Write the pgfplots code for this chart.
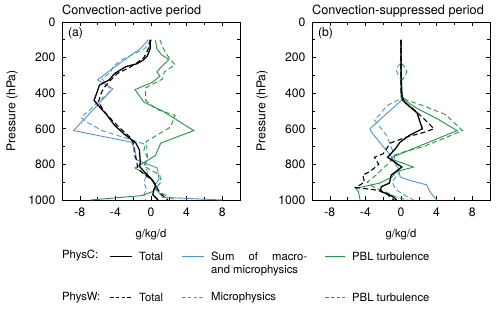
\documentclass[border=0pt]{standalone}
\usepackage{fontspec}
\setmainfont{TeX Gyre Heros}
\usepackage{pgfplots}
\pgfplotsset{compat=1.18}
\definecolor{bl}{RGB}{77,148,217}
\definecolor{gr}{RGB}{35,150,65}
\pgfplotsset{
  panel/.style={
    scale only axis, width=178pt, height=178pt,
    xmin=-10, xmax=10, ymin=0, ymax=1000, y dir=reverse,
    xtick={-8,-4,0,4,8}, minor xtick={-6,-2,2,6},
    ytick={0,200,400,600,800,1000}, minor ytick={100,300,500,700,900},
    tick align=inside, major tick length=4pt, minor tick length=3pt,
    every tick/.style={black, line width=0.6pt},
    axis line style={line width=0.8pt},
    /pgf/number format/assume math mode=true,
    /pgf/number format/set thousands separator={},
    ticklabel style={font=\fontsize{12.2}{14}\selectfont},
    xticklabel style={yshift=-4pt},
    yticklabel style={xshift=-3pt},
    clip mode=individual,
  },
  cs/.style={black, line width=1.3pt},
  cd/.style={black, line width=1.1pt, dash pattern=on 5pt off 3pt},
  bs/.style={bl, line width=0.9pt},
  bd/.style={bl, line width=0.9pt, dash pattern=on 5pt off 3pt},
  gs/.style={gr, line width=0.9pt},
  gd/.style={gr, line width=0.9pt, dash pattern=on 5pt off 3pt},
}
\begin{document}
\begin{tikzpicture}[x=1pt,y=1pt]
\useasboundingbox (0,0) rectangle (500,310);
% ---------------- panel (a)
\begin{axis}[panel, at={(62pt,110pt)}, anchor=south west]
\addplot[bs] coordinates {(-0.3,100)(-1.2,150)(-2.2,185)(-4.0,250)(-6.0,325)(-4.3,375)(-8.7,610)(-2.2,675)(-1.8,720)(-1.6,775)(0.7,820)(0.9,885)(0.5,910)(0.6,940)(1.3,985)(8.0,1000)};
\addplot[bd] coordinates {(0,100)(-0.7,150)(-3.2,210)(-4.3,250)(-4.5,280)(-5.5,320)(-4.5,380)(-4.8,400)(-6.0,450)(-7.1,505)(-7.9,535)(-7.3,560)(-5.5,610)(-2.0,665)(-0.5,690)(-0.4,750)(-0.6,800)(-0.4,850)(-0.8,900)(-0.5,940)(-0.8,970)(-0.6,1000)};
\addplot[gs] coordinates {(0.5,100)(0.65,150)(1.2,185)(2.0,210)(1.2,250)(0.65,280)(1.0,305)(0.1,340)(-1.8,380)(-0.8,450)(1.3,500)(4.8,610)(1.1,680)(0.5,750)(-1.8,820)(-0.8,850)(0.0,880)(0.6,920)(0.3,950)(-1.0,975)(-6.8,1000)};
\addplot[gd] coordinates {(1.0,100)(1.4,150)(2.0,200)(2.7,240)(1.5,280)(1.3,320)(-0.6,370)(-0.6,440)(0.6,490)(2.7,525)(2.2,590)(-0.5,670)(-0.8,720)(-0.4,760)(-0.8,810)(1.0,860)(1.1,900)(0.5,940)(1.5,970)(2.7,1000)};
\addplot[cd] coordinates {(0,100)(-0.3,150)(-0.8,200)(-1.6,230)(-2.4,255)(-3.8,290)(-4.6,330)(-5.3,370)(-5.7,410)(-5.9,450)(-5.3,500)(-4.4,550)(-3.4,600)(-2.3,650)(-1.9,690)(-1.9,740)(-1.6,780)(-1.5,820)(-0.9,850)(-0.1,880)(0.5,910)(0.7,935)(1.1,965)(1.9,1000)};
\addplot[cs] coordinates {(-0.1,100)(-0.1,150)(-0.4,190)(-0.9,215)(-1.6,235)(-2.8,250)(-4.1,290)(-4.7,325)(-5.8,355)(-6.1,400)(-6.4,440)(-6.0,465)(-5.0,520)(-4.1,580)(-3.0,630)(-1.7,680)(-1.3,720)(-1.2,790)(-1.3,810)(-0.6,850)(0.2,890)(0.5,920)(0.3,945)(0.2,970)(0.8,1000)};
\node[anchor=north west, xshift=2.5pt, yshift=-2.5pt, font=\fontsize{12.2}{14}\selectfont] at (axis description cs:0,1) {(a)};
\node[anchor=base west, inner sep=0pt, yshift=7.5pt, font=\fontsize{12.7}{15}\selectfont] at (axis description cs:0,1) {Convection-active period};
\node[rotate=90, font=\fontsize{12.2}{14}\selectfont] at (axis description cs:-0.28,0.5) {Pressure (hPa)};
\node[font=\fontsize{11.3}{13}\selectfont] at (axis description cs:0.5,-0.197) {g/kg/d};
\end{axis}
% ---------------- panel (b)
\begin{axis}[panel, at={(312pt,110pt)}, anchor=south west]
\addplot[bs] coordinates {(0,100)(0,300)(0.05,440)(-3.5,600)(-3.3,620)(-2.0,700)(-1.3,740)(-0.7,790)(-0.3,820)(-0.1,870)(1.0,890)(2.9,915)(3.2,950)(4.0,1000)};
\addplot[bd] coordinates {(0,100)(0,230)(-0.4,250)(-0.5,275)(-0.3,300)(0,320)(0,430)(-1.6,470)(-2.4,520)(-3.0,550)(-2.2,600)(-1.6,640)(-1.3,680)(-0.8,740)(-0.6,800)(-0.3,850)(-1.0,900)(-0.6,940)(0.3,970)(1.4,1000)};
\addplot[gs] coordinates {(0,100)(0.1,430)(0.4,440)(1.8,485)(4.3,550)(6.3,610)(2.4,690)(-1.0,760)(-1.1,770)(1.4,815)(-0.5,840)(-1.0,870)(-2.4,905)(-5.1,935)(-4.8,950)(-4.7,975)(-4.6,1000)};
\addplot[gd] coordinates {(0,100)(0,230)(0.4,250)(0.65,280)(0.4,310)(0,330)(0,420)(0.7,440)(2.5,470)(5.0,520)(6.9,610)(5.0,650)(2.5,700)(0.3,730)(-0.9,750)(-1.3,790)(-2.2,830)(-2.8,860)(-3.8,900)(-3.0,930)(-1.5,960)(-0.5,985)(0.8,1000)};
\addplot[cd] coordinates {(0,100)(0,400)(0.4,450)(1.2,480)(2.5,540)(3.7,600)(2.6,620)(0.7,645)(-1.2,680)(-2.0,740)(-3.0,760)(-2.5,800)(-3.5,840)(-4.3,860)(-4.1,900)(-5.1,930)(-2.6,945)(-1.5,970)(-0.8,1000)};
\addplot[cs] coordinates {(0,100)(0,300)(0.1,400)(0.2,440)(0.6,460)(1.8,510)(2.4,600)(1.0,635)(-0.1,675)(-0.6,710)(-1.5,760)(0.1,815)(-1.1,860)(-1.3,905)(-2.2,925)(-2.3,940)(-2.1,955)(-1.1,975)(-0.5,1000)};
\node[anchor=north west, xshift=2.5pt, yshift=-2.5pt, font=\fontsize{12.2}{14}\selectfont] at (axis description cs:0,1) {(b)};
\node[anchor=base west, inner sep=0pt, yshift=7.5pt, font=\fontsize{12.7}{15}\selectfont] at (axis description cs:0,1) {Convection-suppressed period};
\node[rotate=90, font=\fontsize{12.2}{14}\selectfont] at (axis description cs:-0.28,0.5) {Pressure (hPa)};
\node[font=\fontsize{11.3}{13}\selectfont] at (axis description cs:0.5,-0.197) {g/kg/d};
\end{axis}
% ---------------- legend
\begin{scope}[every node/.style={font=\fontsize{11.3}{13}\selectfont, inner sep=0pt}]
\node[anchor=west] at (62,54) {PhysC:};
\draw[black, line width=0.9pt] (110,54) -- (132,54);
\node[anchor=west] at (139,54) {Total};
\draw[bl, line width=0.9pt] (182,54) -- (204,54);
\node[anchor=west] at (211,54) {\makebox[96pt][s]{Sum of macro-}};
\node[anchor=west] at (211,39.5) {and microphysics};
\draw[gr, line width=0.9pt] (325,54) -- (345,54);
\node[anchor=west] at (352,54) {PBL turbulence};
\node[anchor=west] at (62,12.5) {PhysW:};
\draw[black, line width=0.9pt, dash pattern=on 3.5pt off 2.3pt] (110,12.5) -- (132,12.5);
\node[anchor=west] at (139,12.5) {Total};
\draw[bl, line width=0.8pt, dash pattern=on 3.5pt off 2.3pt] (182,12.5) -- (204,12.5);
\node[anchor=west] at (211,12.5) {Microphysics};
\draw[gr, line width=0.8pt, dash pattern=on 3.5pt off 2.3pt] (325,12.5) -- (345,12.5);
\node[anchor=west] at (352,12.5) {PBL turbulence};
\end{scope}
\end{tikzpicture}
\end{document}
